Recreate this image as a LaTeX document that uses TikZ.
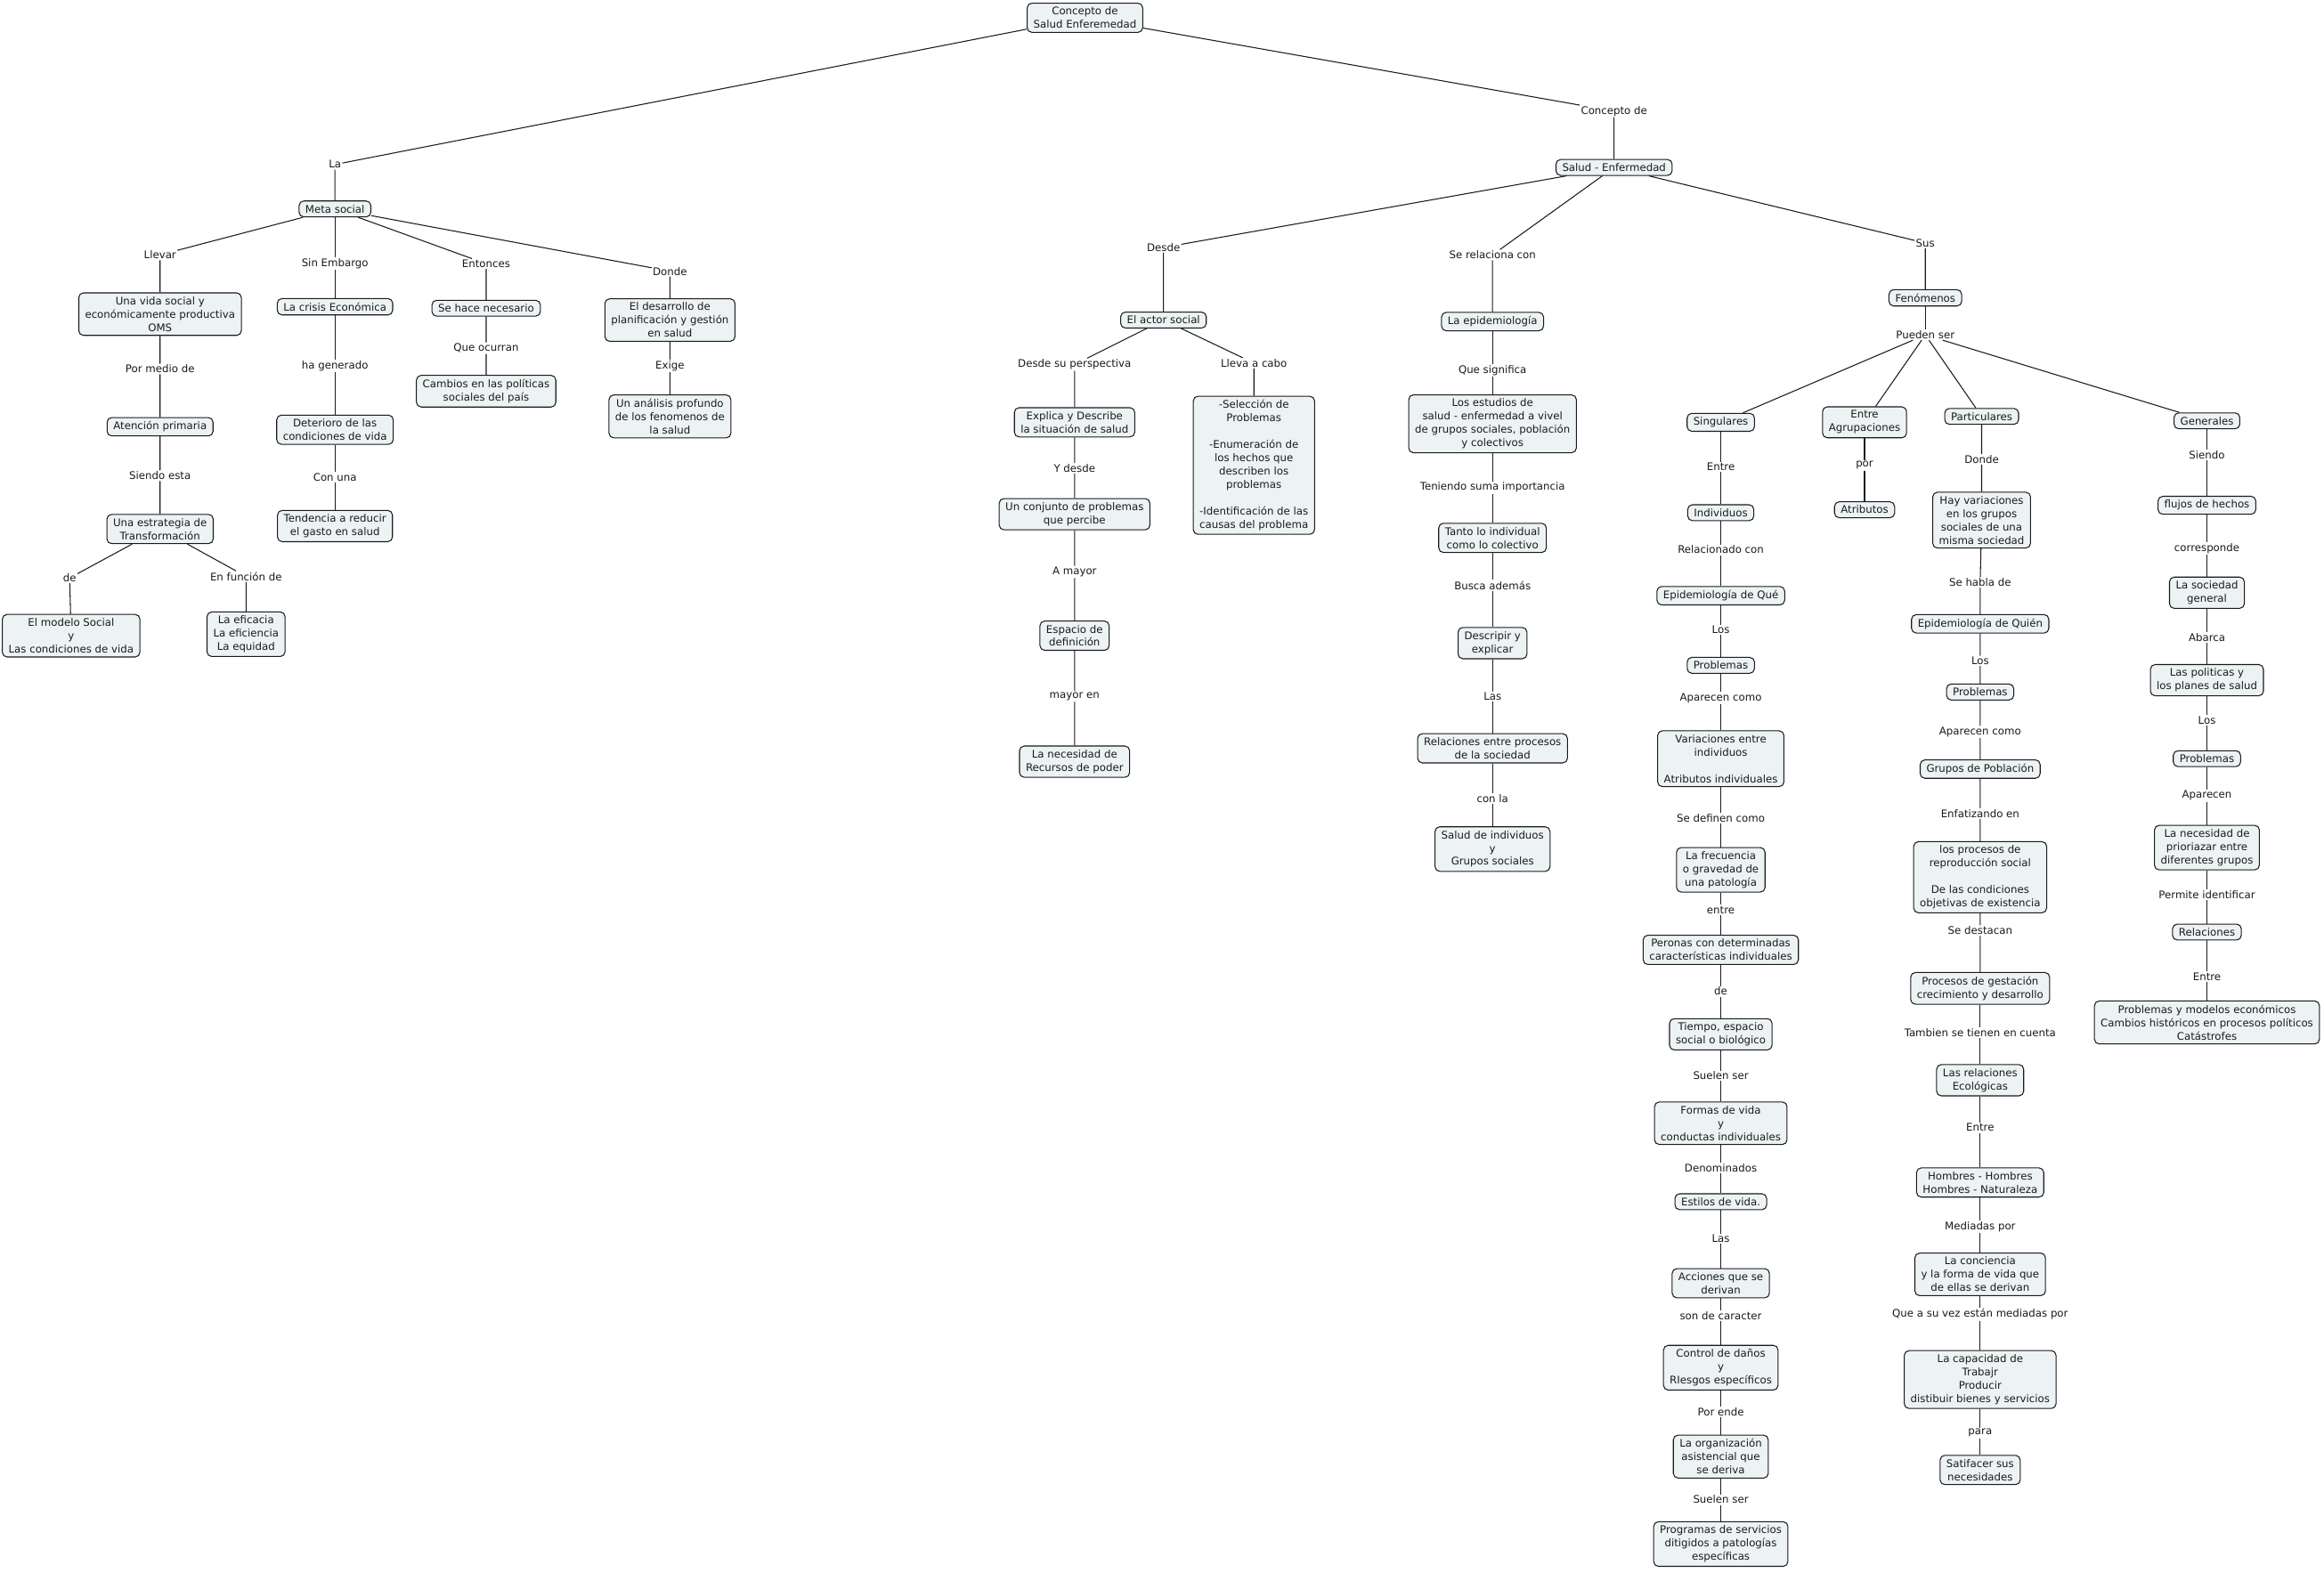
\documentclass[tikz,border=0pt]{standalone}
\usepackage{fontspec}
\setmainfont{DejaVu Sans}
\usepackage{tikz}
\usetikzlibrary{positioning}
\definecolor{cajafondo}{HTML}{EDF3F5}
\definecolor{tinta}{HTML}{1A1A1A}
\tikzset{
  concepto/.style={draw=tinta, fill=cajafondo, rounded corners=3pt, line width=0.6pt,
    align=center, inner xsep=4pt, inner ysep=2.5pt, text=tinta, font=\fontsize{6.7}{8.5}\selectfont},
  enlace/.style={inner sep=0.6pt, text=tinta, font=\fontsize{6.7}{8.5}\selectfont},
  linea/.style={draw=tinta, line width=0.6pt}
}

\begin{document}
\begin{tikzpicture}[x=0.0333cm, y=-0.0333cm]
  \fill[white] (0,0) rectangle (1568,1061);
  % Raiz
  \node[concepto] (raiz) at (732,12) {Concepto de\\Salud Enferemedad};
  \node[enlace] (eLa) at (226,111) {La};
  \node[concepto] (meta) at (226,141) {Meta social};
  \node[enlace] (eConcepto) at (1089,75) {Concepto de};
  \node[concepto] (salud) at (1089,113) {Salud - Enfermedad};
  \draw[linea] (raiz) -- (eLa) -- (meta);
  \draw[linea] (raiz) -- (eConcepto) -- (salud);
  % Meta social
  \node[enlace] (eLlevar) at (108,172) {Llevar};
  \node[concepto] (vida) at (108,212) {Una vida social y\\económicamente productiva\\OMS};
  \node[enlace] (eSinEmb) at (226,178) {Sin Embargo};
  \node[concepto] (crisis) at (226,207) {La crisis Económica};
  \node[enlace] (eEntonces) at (328,178) {Entonces};
  \node[concepto] (necesario) at (328,208) {Se hace necesario};
  \node[enlace] (eDonde) at (452,183) {Donde};
  \node[concepto] (desarrollo) at (452,216) {El desarrollo de\\planificación y gestión\\en salud};
  \node[enlace] (ePorMedio) at (108,249) {Por medio de};
  \node[concepto] (atencion) at (108,288) {Atención primaria};
  \node[enlace] (eSiendoEsta) at (108,321) {Siendo esta};
  \node[concepto] (estrategia) at (108,357) {Una estrategia de\\Transformación};
  \node[enlace] (eDe) at (47,390) {de};
  \node[concepto] (modelo) at (48,429) {El modelo Social\\y\\Las condiciones de vida};
  \node[enlace] (eFuncion) at (166,389) {En función de};
  \node[concepto] (eficacia) at (166,428) {La eficacia\\La eficiencia\\La equidad};
  \node[enlace] (eGenerado) at (226,247) {ha generado};
  \node[concepto] (deterioro) at (226,290) {Deterioro de las\\condiciones de vida};
  \node[enlace] (eConUna) at (226,322) {Con una};
  \node[concepto] (tendencia) at (226,355) {Tendencia a reducir\\el gasto en salud};
  \node[enlace] (eOcurran) at (328,235) {Que ocurran};
  \node[concepto] (cambios) at (328,264) {Cambios en las políticas\\sociales del país};
  \node[enlace] (eExige) at (452,247) {Exige};
  \node[concepto] (analisis) at (452,281) {Un análisis profundo\\de los fenomenos de\\la salud};
  \draw[linea] (meta) -- (eLlevar) -- (vida) -- (ePorMedio) -- (atencion) -- (eSiendoEsta) -- (estrategia);
  \draw[linea] (estrategia) -- (eDe) -- (modelo);
  \draw[linea] (estrategia) -- (eFuncion) -- (eficacia);
  \draw[linea] (meta) -- (eSinEmb) -- (crisis) -- (eGenerado) -- (deterioro) -- (eConUna) -- (tendencia);
  \draw[linea] (meta) -- (eEntonces) -- (necesario) -- (eOcurran) -- (cambios);
  \draw[linea] (meta) -- (eDonde) -- (desarrollo) -- (eExige) -- (analisis);
  % Salud - Enfermedad
  \node[enlace] (eDesde) at (785,167) {Desde};
  \node[concepto] (actor) at (785,216) {El actor social};
  \node[enlace] (eRelaciona) at (1007,172) {Se relaciona con};
  \node[concepto] (epidem) at (1007,217) {La epidemiología};
  \node[enlace] (eSus) at (1299,164) {Sus};
  \node[concepto] (fenomenos) at (1299,201) {Fenómenos};
  \draw[linea] (salud) -- (eDesde) -- (actor);
  \draw[linea] (salud) -- (eRelaciona) -- (epidem);
  \draw[linea] (salud) -- (eSus) -- (fenomenos);
  % El actor social
  \node[enlace] (ePerspectiva) at (725,246) {Desde su perspectiva};
  \node[concepto] (explica) at (725,285) {Explica y Describe\\la situación de salud};
  \node[enlace] (eLleva) at (846,245) {Lleva a cabo};
  \node[concepto] (seleccion) at (846,314) {-Selección de\\Problemas\\[8.5pt]-Enumeración de\\los hechos que\\describen los\\problemas\\[8.5pt]-Identificación de las\\causas del problema};
  \node[enlace] (eYDesde) at (725,316) {Y desde};
  \node[concepto] (conjunto) at (725,347) {Un conjunto de problemas\\que percibe};
  \node[enlace] (eAMayor) at (725,386) {A mayor};
  \node[concepto] (espacio) at (725,429) {Espacio de\\definición};
  \node[enlace] (eMayorEn) at (725,470) {mayor en};
  \node[concepto] (recursos) at (725,514) {La necesidad de\\Recursos de poder};
  \draw[linea] (actor) -- (ePerspectiva) -- (explica) -- (eYDesde) -- (conjunto) -- (eAMayor) -- (espacio) -- (eMayorEn) -- (recursos);
  \draw[linea] (actor) -- (eLleva) -- (seleccion);
  % La epidemiologia
  \node[enlace] (eSignifica) at (1007,250) {Que significa};
  \node[concepto] (estudios) at (1007,286) {Los estudios de\\salud - enfermedad a vivel\\de grupos sociales, población\\y colectivos};
  \node[enlace] (eSuma) at (1007,329) {Teniendo suma importancia};
  \node[concepto] (tanto) at (1007,363) {Tanto lo individual\\como lo colectivo};
  \node[enlace] (eBusca) at (1007,395) {Busca además};
  \node[concepto] (descripir) at (1007,434) {Descripir y\\explicar};
  \node[enlace] (eLas) at (1007,470) {Las};
  \node[concepto] (relaciones) at (1007,505) {Relaciones entre procesos\\de la sociedad};
  \node[enlace] (eConLa) at (1007,539) {con la};
  \node[concepto] (saludGrupos) at (1007,573) {Salud de individuos\\y\\Grupos sociales};
  \draw[linea] (epidem) -- (eSignifica) -- (estudios) -- (eSuma) -- (tanto) -- (eBusca) -- (descripir) -- (eLas) -- (relaciones) -- (eConLa) -- (saludGrupos);
  % Fenomenos
  \node[enlace] (ePueden) at (1299,226) {Pueden ser};
  \node[concepto] (singulares) at (1161,285) {Singulares};
  \node[concepto] (agrupaciones) at (1258,285) {Entre\\Agrupaciones};
  \node[concepto] (particulares) at (1337,281) {Particulares};
  \node[concepto] (generales) at (1489,284) {Generales};
  \draw[linea] (fenomenos) -- (ePueden);
  \draw[linea] (ePueden) -- (singulares);
  \draw[linea] (ePueden) -- (agrupaciones);
  \draw[linea] (ePueden) -- (particulares);
  \draw[linea] (ePueden) -- (generales);
  % Singulares
  \node[enlace] (sEntre) at (1161,315) {Entre};
  \node[concepto] (sIndiv) at (1161,346) {Individuos};
  \node[enlace] (sRelac) at (1161,371) {Relacionado con};
  \node[concepto] (sEpiQue) at (1161,402) {Epidemiología de Qué};
  \node[enlace] (sLos) at (1161,425) {Los};
  \node[concepto] (sProb) at (1161,449) {Problemas};
  \node[enlace] (sAparecen) at (1161,471) {Aparecen como};
  \node[concepto] (sVariac) at (1161,512) {Variaciones entre\\individuos\\[8.5pt]Atributos individuales};
  \node[enlace] (sDefinen) at (1161,552) {Se definen como};
  \node[concepto] (sFrec) at (1161,587) {La frecuencia\\o gravedad de\\una patología};
  \node[enlace] (sEntre2) at (1161,614) {entre};
  \node[concepto] (sPersonas) at (1161,641) {Peronas con determinadas\\características individuales};
  \node[enlace] (sDe) at (1161,669) {de};
  \node[concepto] (sTiempo) at (1161,698) {Tiempo, espacio\\social o biológico};
  \node[enlace] (sSuelen) at (1161,726) {Suelen ser};
  \node[concepto] (sFormas) at (1161,758) {Formas de vida\\y\\conductas individuales};
  \node[enlace] (sDenom) at (1161,788) {Denominados};
  \node[concepto] (sEstilos) at (1161,811) {Estilos de vida.};
  \node[enlace] (sLas) at (1161,836) {Las};
  \node[concepto] (sAcciones) at (1161,866) {Acciones que se\\derivan};
  \node[enlace] (sCaracter) at (1161,888) {son de caracter};
  \node[concepto] (sControl) at (1161,923) {Control de daños\\y\\RIesgos específicos};
  \node[enlace] (sPorEnde) at (1161,953) {Por ende};
  \node[concepto] (sOrganiz) at (1161,983) {La organización\\asistencial que\\se deriva};
  \node[enlace] (sSuelen2) at (1161,1012) {Suelen ser};
  \node[concepto] (sProgramas) at (1161,1042) {Programas de servicios\\ditigidos a patologías\\específicas};
  \draw[linea] (singulares) -- (sEntre) -- (sIndiv) -- (sRelac) -- (sEpiQue) -- (sLos) -- (sProb) -- (sAparecen) -- (sVariac) -- (sDefinen) -- (sFrec) -- (sEntre2) -- (sPersonas) -- (sDe) -- (sTiempo);
  \draw[linea] (sTiempo) -- (sSuelen) -- (sFormas) -- (sDenom) -- (sEstilos) -- (sLas) -- (sAcciones) -- (sCaracter) -- (sControl) -- (sPorEnde) -- (sOrganiz) -- (sSuelen2) -- (sProgramas);
  % Entre agrupaciones
  \node[enlace] (aPor) at (1258,314) {por};
  \node[concepto] (aAtributos) at (1258,344) {Atributos};
  \draw[linea] (agrupaciones) -- (aPor) -- (aAtributos);
  % Particulares
  \node[enlace] (pDonde) at (1337,310) {Donde};
  \node[concepto] (pVariac) at (1337,351) {Hay variaciones\\en los grupos\\sociales de una\\misma sociedad};
  \node[enlace] (pHabla) at (1336,393) {Se habla de};
  \node[concepto] (pEpiQuien) at (1336,421) {Epidemiología de Quién};
  \node[enlace] (pLos) at (1336,446) {Los};
  \node[concepto] (pProb) at (1336,467) {Problemas};
  \node[enlace] (pAparecen) at (1336,494) {Aparecen como};
  \node[concepto] (pGrupos) at (1336,519) {Grupos de Población};
  \node[enlace] (pEnfat) at (1336,549) {Enfatizando en};
  \node[concepto] (pProcesos) at (1336,592) {los procesos de\\reproducción social\\[8.5pt]De las condiciones\\objetivas de existencia};
  \node[enlace] (pDestacan) at (1336,628) {Se destacan};
  \node[concepto] (pGestacion) at (1336,667) {Procesos de gestación\\crecimiento y desarrollo};
  \node[enlace] (pCuenta) at (1336,697) {Tambien se tienen en cuenta};
  \node[concepto] (pEcolog) at (1336,729) {Las relaciones\\Ecológicas};
  \node[enlace] (pEntre) at (1336,761) {Entre};
  \node[concepto] (pHombres) at (1336,798) {Hombres - Hombres\\Hombres - Naturaleza};
  \node[enlace] (pMediadas) at (1336,828) {Mediadas por};
  \node[concepto] (pConciencia) at (1336,860) {La conciencia\\y la forma de vida que\\de ellas se derivan};
  \node[enlace] (pVez) at (1336,887) {Que a su vez están mediadas por};
  \node[concepto] (pCapacidad) at (1336,931) {La capacidad de\\Trabajr\\Producir\\distibuir bienes y servicios};
  \node[enlace] (pPara) at (1336,967) {para};
  \node[concepto] (pSatisf) at (1336,992) {Satifacer sus\\necesidades};
  \draw[linea] (particulares) -- (pDonde) -- (pVariac) -- (pHabla) -- (pEpiQuien) -- (pLos) -- (pProb) -- (pAparecen) -- (pGrupos) -- (pEnfat) -- (pProcesos) -- (pDestacan) -- (pGestacion);
  \draw[linea] (pGestacion) -- (pCuenta) -- (pEcolog) -- (pEntre) -- (pHombres) -- (pMediadas) -- (pConciencia) -- (pVez) -- (pCapacidad) -- (pPara) -- (pSatisf);
  % Generales
  \node[enlace] (gSiendo) at (1489,307) {Siendo};
  \node[concepto] (gFlujos) at (1489,341) {flujos de hechos};
  \node[enlace] (gCorresp) at (1489,370) {corresponde};
  \node[concepto] (gSociedad) at (1489,400) {La sociedad\\general};
  \node[enlace] (gAbarca) at (1489,430) {Abarca};
  \node[concepto] (gPoliticas) at (1489,459) {Las politicas y\\los planes de salud};
  \node[enlace] (gLos) at (1489,486) {Los};
  \node[concepto] (gProb) at (1489,512) {Problemas};
  \node[enlace] (gAparecen) at (1489,537) {Aparecen};
  \node[concepto] (gNecesidad) at (1489,572) {La necesidad de\\prioriazar entre\\diferentes grupos};
  \node[enlace] (gPermite) at (1489,604) {Permite identificar};
  \node[concepto] (gRelaciones) at (1489,629) {Relaciones};
  \node[enlace] (gEntre) at (1489,659) {Entre};
  \node[concepto] (gModelos) at (1489,690) {Problemas y modelos económicos\\Cambios históricos en procesos políticos\\Catástrofes};
  \draw[linea] (generales) -- (gSiendo) -- (gFlujos) -- (gCorresp) -- (gSociedad) -- (gAbarca) -- (gPoliticas) -- (gLos) -- (gProb) -- (gAparecen) -- (gNecesidad) -- (gPermite) -- (gRelaciones) -- (gEntre) -- (gModelos);
\end{tikzpicture}
\end{document}
